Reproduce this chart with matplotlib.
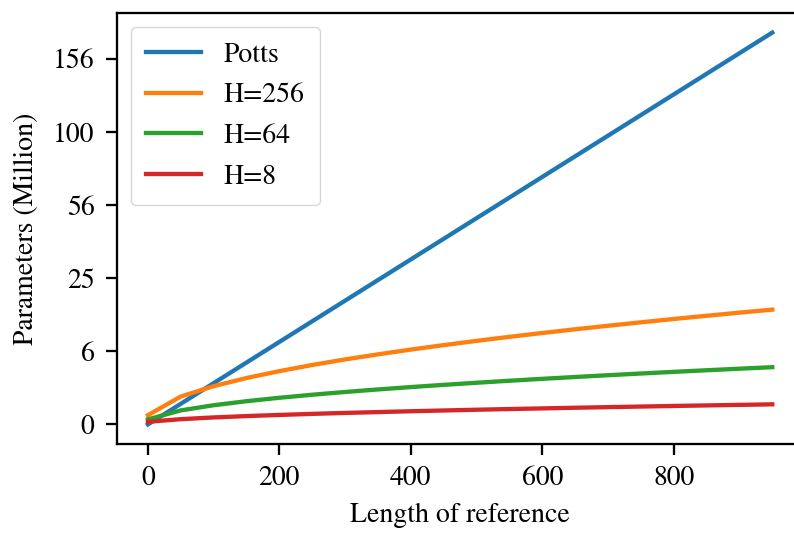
import matplotlib
matplotlib.use("Agg")
import matplotlib.pyplot as plt
from matplotlib.ticker import FuncFormatter, MultipleLocator
import numpy as np

# length of reference (sampled every 50)
length = [0, 50, 100, 150, 200, 250, 300, 350, 400, 450,
          500, 550, 600, 650, 700, 750, 800, 850, 900, 950]

# parameters in millions
potts = [0.0, 0.497, 1.990, 4.477, 7.958, 12.435, 17.906, 24.373, 31.834, 40.290,
         49.740, 60.185, 71.626, 84.061, 97.491, 111.915, 127.334, 143.749, 161.158, 179.562]
h256 = [0.10, 0.91, 1.71, 2.52, 3.32, 4.13, 4.94, 5.74, 6.55, 7.35,
        8.16, 8.97, 9.77, 10.58, 11.38, 12.19, 13.00, 13.80, 14.61, 15.41]
h64 = [0.03, 0.23, 0.43, 0.63, 0.83, 1.03, 1.23, 1.43, 1.63, 1.83,
       2.03, 2.23, 2.43, 2.63, 2.83, 3.03, 3.23, 3.43, 3.63, 3.83]
h8 = [0.008, 0.032, 0.057, 0.081, 0.105, 0.130, 0.154, 0.178, 0.203, 0.227,
      0.252, 0.276, 0.300, 0.325, 0.349, 0.373, 0.398, 0.422, 0.446, 0.471]

series = [("Potts", potts), ("H=256", h256), ("H=64", h64), ("H=8", h8)]

plt.rcParams['font.family'] = ['STIXGeneral', 'Liberation Serif', 'DejaVu Serif']
plt.rcParams['font.size'] = 20

W, H = 794, 534
fig = plt.figure(figsize=(W / 100, H / 100), dpi=100)
# right spine falls just outside the image, like the reference
ax = fig.add_axes([116.7 / W, 1 - 444 / H, (803.5 - 116.7) / W, (444 - 13) / H])

# y axis is drawn on a square-root scale
for name, vals in series:
    ax.plot(length, np.sqrt(vals), lw=3.1, label=name)

ax.yaxis.set_major_locator(MultipleLocator(2.5))
ax.yaxis.set_major_formatter(FuncFormatter(lambda v, pos: "%d" % (v ** 2)))
ax.set_xlabel("Length of reference", labelpad=8)
ax.set_ylabel("Parameters (Million)", labelpad=10)

for s in ax.spines.values():
    s.set_linewidth(1.65)
ax.tick_params(length=7.9, width=1.65, labelsize=20, pad=8)

ax.legend(loc="upper left", fontsize=20, handlelength=2.0,
          labelspacing=0.55, borderpad=0.55)

fig.savefig("out.png", dpi=100)
